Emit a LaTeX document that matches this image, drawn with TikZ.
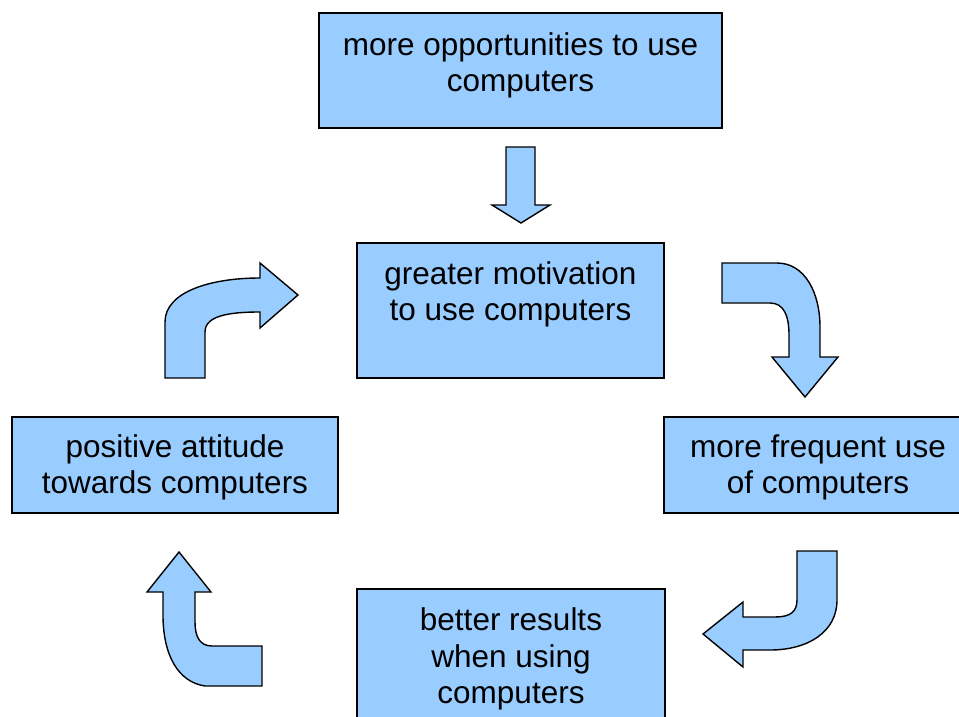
\documentclass[tikz,border=0pt]{standalone}
\usepackage{fontspec}
\setmainfont{Liberation Sans}
\definecolor{boxblue}{HTML}{99CCFF}
\begin{document}
\begin{tikzpicture}[x=1pt,y=-1pt,
  box/.style={draw=black,line width=1.6pt,fill=boxblue,rectangle,inner sep=0pt},
  txt/.style={align=center,inner sep=0pt,font=\fontsize{31.5}{36}\selectfont},
  bigarrow/.style={draw=black,line width=1.4pt,fill=boxblue,line join=miter}]
\useasboundingbox (0,0) rectangle (959,717);
\clip (0,0) rectangle (959,717);
% boxes
\node[box,minimum width=403pt,minimum height=115pt] (opp) at (520.5,70.5) {};
\node[box,minimum width=307pt,minimum height=135pt] (mot) at (510.5,310.5) {};
\node[box,minimum width=326pt,minimum height=96pt] (att) at (175,465) {};
\node[box,minimum width=311pt,minimum height=96pt] (freq) at (819.5,465) {};
\node[box,minimum width=308pt,minimum height=141pt] (res) at (511,659.5) {};
% texts (base anchor = baseline of the last line)
\node[txt,anchor=base] (opptext) at (520.5,91.5) {more opportunities to use\\computers};
\node[txt,anchor=base] (mottext) at (510.5,320) {greater motivation\\to use computers};
\node[txt,anchor=base] (atttext) at (175,493) {positive attitude\\towards computers};
\node[txt,anchor=base] (freqtext) at (818,493) {more frequent use\\of computers};
\node[txt,anchor=base,font=\fontsize{31.5}{36.5}\selectfont] (restext) at (511,703.5) {better results\\when using\\computers};
% arrows
\draw[bigarrow] (506,147) -- (535,147) -- (535,205) -- (550,205) -- (521,223) -- (492,205) -- (506,205) -- cycle;
\draw[bigarrow] (722,263) -- (777,263) .. controls (805,263) and (820,293) .. (820,327) -- (820,357) -- (838,357) -- (805,397) -- (772,357) -- (789,357) -- (789,335) .. controls (789,316) and (784,303) .. (770,303) -- (722,303) -- cycle;
\draw[bigarrow] (797,551) -- (837,551) -- (837,600) .. controls (837,632) and (808,650) .. (770,650) -- (743,650) -- (743,667) -- (703,634) -- (743,602) -- (743,617) -- (775,617) .. controls (790,617) and (797,612) .. (797,600) -- cycle;
\draw[bigarrow] (262,646) -- (262,686) -- (205,686) .. controls (178,682) and (163,655) .. (163,615) -- (163,592) -- (147,592) -- (179,552) -- (211,592) -- (195,592) -- (195,622) .. controls (195,637) and (200,646) .. (212,646) -- cycle;
\draw[bigarrow] (165,378) -- (165,322) .. controls (165,292) and (210,278) .. (260,278) -- (260,263) -- (298,295) -- (260,328) -- (260,312) .. controls (228,312) and (205,316) .. (205,332) -- (205,378) -- cycle;
\end{tikzpicture}
\end{document}
